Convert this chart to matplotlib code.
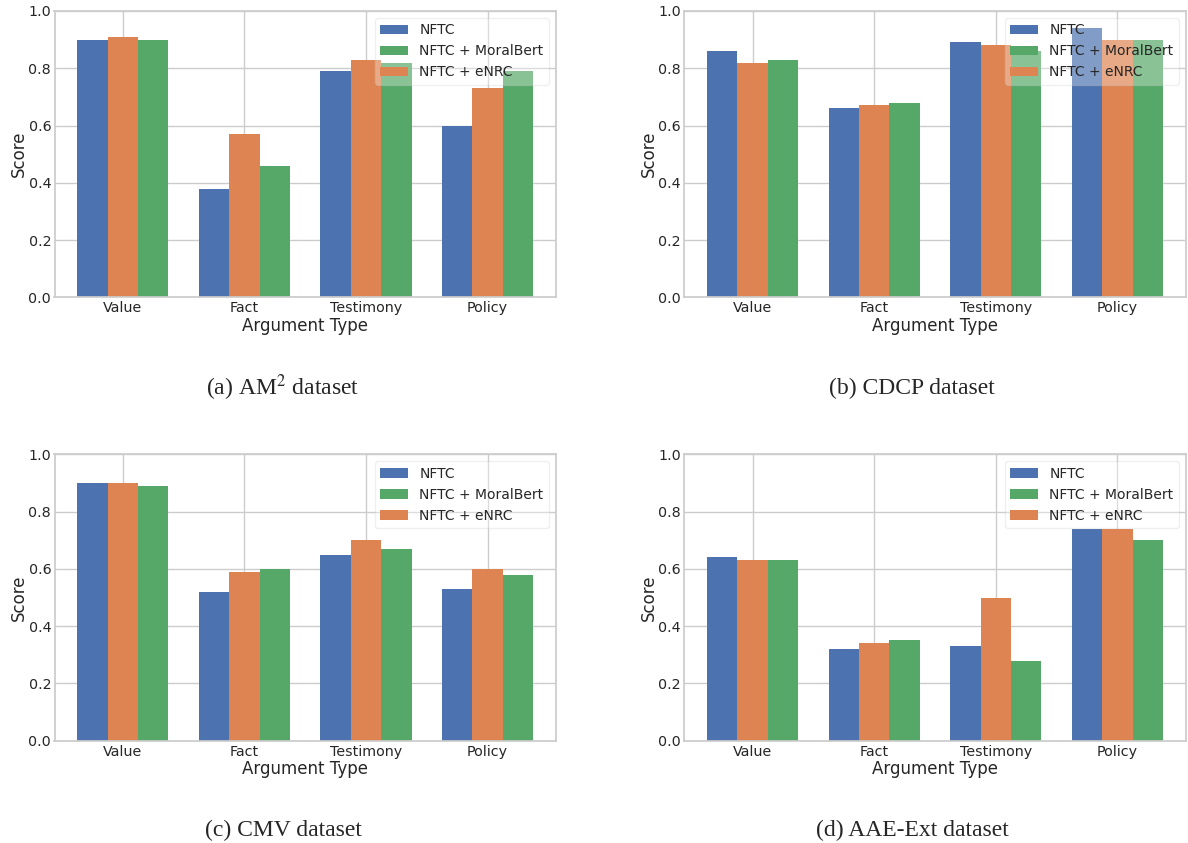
import numpy as np
import matplotlib
matplotlib.use("Agg")
import matplotlib.pyplot as plt
import seaborn as sns

sns.set_theme(style="whitegrid", palette="deep")
plt.rcParams["font.family"] = "sans-serif"
plt.rcParams["font.sans-serif"] = ["DejaVu Sans"]
plt.rcParams["mathtext.fontset"] = "stix"

types = ["Value", "Fact", "Testimony", "Policy"]
series = ["NFTC", "NFTC + eNRC", "NFTC + MoralBert"]

# wyniki: NFTC, NFTC + eNRC, NFTC + MoralBert
am2_nftc = [0.90, 0.38, 0.79, 0.60]
am2_enrc = [0.91, 0.57, 0.83, 0.73]
am2_moral = [0.90, 0.46, 0.82, 0.79]

cdcp_nftc = [0.86, 0.66, 0.89, 0.94]
cdcp_enrc = [0.82, 0.67, 0.88, 0.90]
cdcp_moral = [0.83, 0.68, 0.86, 0.90]

cmv_nftc = [0.90, 0.52, 0.65, 0.53]
cmv_enrc = [0.90, 0.59, 0.70, 0.60]
cmv_moral = [0.89, 0.60, 0.67, 0.58]

aae_nftc = [0.64, 0.32, 0.33, 0.74]
aae_enrc = [0.63, 0.34, 0.50, 0.74]
aae_moral = [0.63, 0.35, 0.28, 0.70]

captions = ["(a) AM$^{2}$ dataset", "(b) CDCP dataset", "(c) CMV dataset", "(d) AAE-Ext dataset"]
panels = [
    (am2_nftc, am2_enrc, am2_moral),
    (cdcp_nftc, cdcp_enrc, cdcp_moral),
    (cmv_nftc, cmv_enrc, cmv_moral),
    (aae_nftc, aae_enrc, aae_moral),
]

W, H = 1188, 843
fig = plt.figure(figsize=(W / 100, H / 100), dpi=100)

# pozycje osi w pikselach: lewa, dolna krawedz
lefts = [54.5, 684.3, 54.5, 684.3]
bottoms = [297.3, 297.3, 740.7, 740.7]
ax_w, ax_h = 501.5, 286.3
cap_x = [283, 912, 283, 912]
cap_y = [388, 388, 830, 830]

colors = sns.color_palette("deep")
bar_colors = [colors[0], colors[1], colors[2]]
width = 0.25
x = np.arange(len(types))

for k, (vals, cap) in enumerate(zip(panels, captions)):
    ax = fig.add_axes([lefts[k] / W, (H - bottoms[k]) / H, ax_w / W, ax_h / H])
    bars = []
    for j, (v, name) in enumerate(zip(vals, series)):
        b = ax.bar(x + (j - 1) * width, v, width=width, label=name,
                   color=bar_colors[j], linewidth=0)
        bars.append(b)
    ax.set_xticks(x)
    ax.set_xticklabels(types, fontsize=10.3)
    ax.set_ylim(0, 1.0)
    ax.set_yticks(np.arange(0, 1.01, 0.2))
    ax.tick_params(axis="y", labelsize=10.3, pad=2.4, length=0)
    ax.tick_params(axis="x", pad=3, length=0)
    ax.set_xlabel("Argument Type", fontsize=12)
    ax.set_ylabel("Score", fontsize=12)
    ax.xaxis.set_label_coords(0.5, -0.068)
    ax.yaxis.set_label_coords(-0.053, 0.5)
    ax.legend([bars[0], bars[2], bars[1]], [series[0], series[2], series[1]],
              loc="upper right", fontsize=10, framealpha=0.3)
    fig.text(cap_x[k] / W, 1 - cap_y[k] / H, cap, ha="center", va="center",
             fontsize=17, family="Liberation Serif")

fig.savefig("out.png", dpi=100)
